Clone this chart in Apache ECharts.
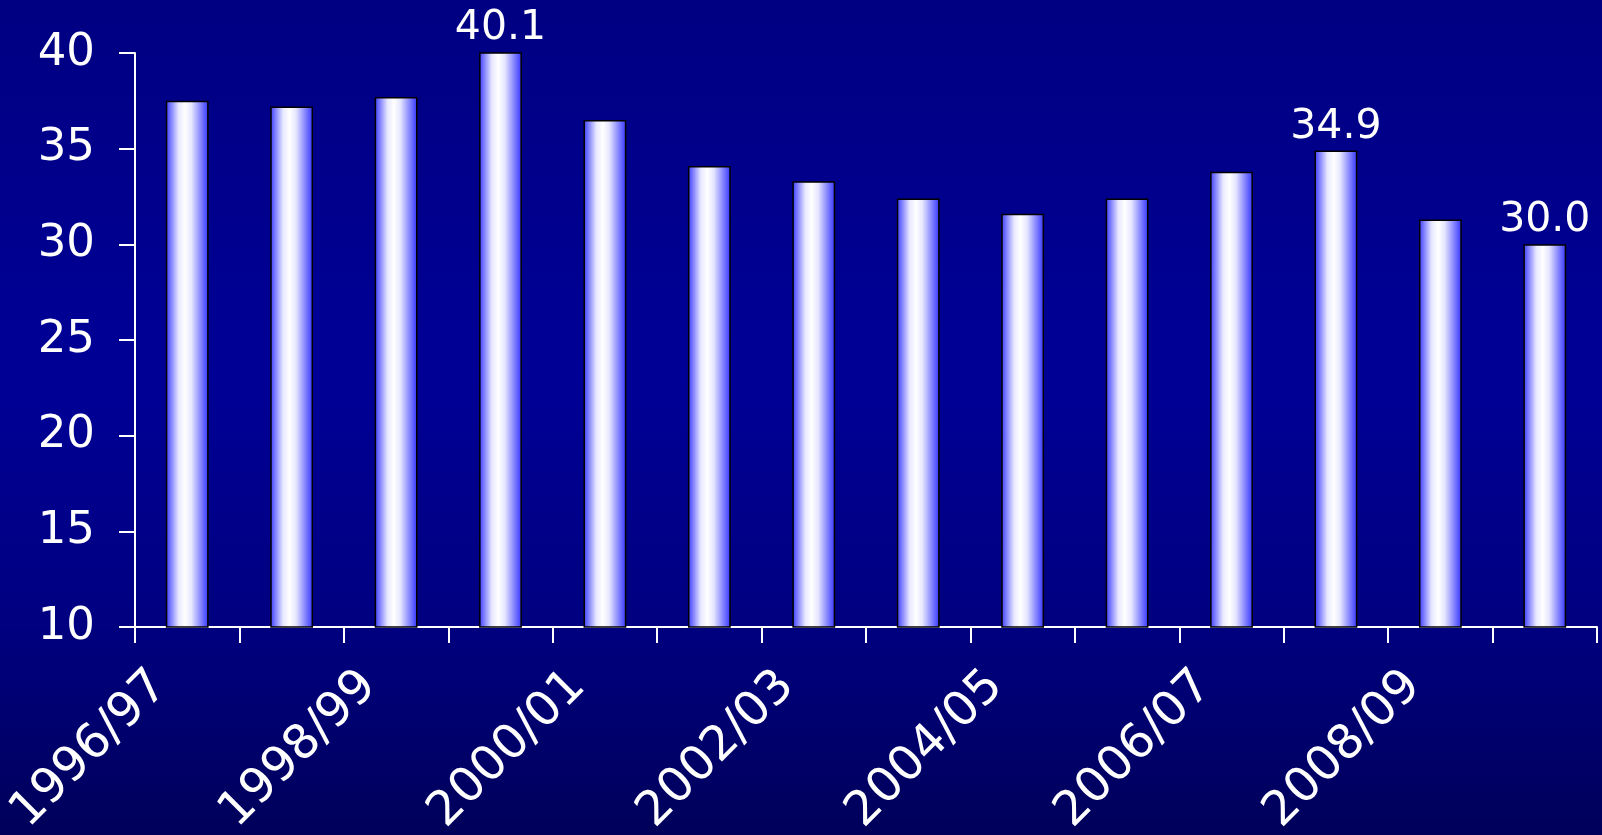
<!DOCTYPE html>
<html>
<head>
<meta charset="utf-8">
<script src="https://cdn.jsdelivr.net/npm/echarts@6/dist/echarts.min.js"></script>
<style>
html,body{margin:0;padding:0;width:1602px;height:835px;overflow:hidden;}
#chart{width:1602px;height:835px;}
</style>
</head>
<body>
<div id="chart"></div>
<script>
const categories = ['1996/97','1997/98','1998/99','1999/00','2000/01','2001/02','2002/03','2003/04','2004/05','2005/06','2006/07','2007/08','2008/09','2009/10'];
const values = [37.5, 37.2, 37.7, 40.1, 36.5, 34.1, 33.3, 32.4, 31.6, 32.4, 33.8, 34.9, 31.3, 30.0];
const labelledIndices = [3, 11, 13];
const yTicks = { min: 10, max: 40, interval: 5 };

const FONT = 'DejaVu Sans';
const barGradient = new echarts.graphic.LinearGradient(0, 0, 1, 0, [
  { offset: 0, color: '#3a3aff' },
  { offset: 0.3, color: '#e8e8ff' },
  { offset: 0.45, color: '#ffffff' },
  { offset: 0.6, color: '#e6e6ff' },
  { offset: 1, color: '#3333ff' }
]);

const seriesData = values.map((v, i) => ({
  value: v,
  label: { show: labelledIndices.includes(i) }
}));

const chart = echarts.init(document.getElementById('chart'));
chart.setOption({
  animation: false,
  backgroundColor: new echarts.graphic.LinearGradient(0, 0, 0, 1, [
    { offset: 0, color: '#000082' },
    { offset: 0.45, color: '#000096' },
    { offset: 0.75, color: '#000080' },
    { offset: 1, color: '#00005a' }
  ]),
  grid: { left: 135, right: 5, top: 53, bottom: 208, containLabel: false, outerBoundsMode: 'none' },
  xAxis: {
    type: 'category',
    data: categories,
    axisLine: { lineStyle: { color: '#ffffff', width: 2 } },
    axisTick: { show: true, length: 16, lineStyle: { color: '#ffffff', width: 2 }, interval: 0 },
    axisLabel: {
      interval: 1,
      rotate: 45,
      color: '#ffffff',
      fontFamily: FONT,
      fontSize: 48,
      margin: 25,
      padding: [0, 38, 0, 0]
    }
  },
  yAxis: {
    type: 'value',
    min: yTicks.min,
    max: yTicks.max,
    interval: yTicks.interval,
    splitLine: { show: false },
    axisLine: { show: true, lineStyle: { color: '#ffffff', width: 2 } },
    axisTick: { show: true, length: 16, lineStyle: { color: '#ffffff', width: 2 } },
    axisLabel: { color: '#ffffff', fontFamily: FONT, fontSize: 45, margin: 40, padding: [16, 0, 0, 0] }
  },
  series: [{
    type: 'bar',
    data: seriesData,
    barWidth: '41%',
    itemStyle: { color: barGradient, borderColor: '#000000', borderWidth: 1.5 },
    label: {
      show: false,
      position: 'top',
      distance: 3,
      color: '#ffffff',
      fontFamily: FONT,
      fontSize: 41,
      formatter: p => p.value.toFixed(1)
    }
  }]
});
</script>
</body>
</html>
